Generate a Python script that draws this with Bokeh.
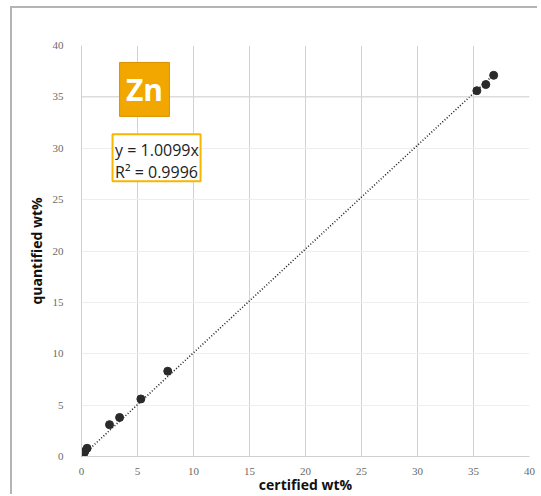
from bokeh.plotting import figure
from bokeh.models import Label, BoxAnnotation, Span, FixedTicker, Range1d
from bokeh.embed import file_html
from bokeh.resources import INLINE

# data
certified = [0.1, 0.2, 0.3, 0.5, 2.5, 3.4, 5.3, 7.7, 35.3, 36.1, 36.8]
quantified = [0.1, 0.3, 0.5, 0.8, 3.1, 3.8, 5.6, 8.3, 35.6, 36.2, 37.1]
slope = 1.0099
r2 = 0.9996
ticks = [0, 5, 10, 15, 20, 25, 30, 35, 40]
element = "Zn"

p = figure(width=527, height=488, output_backend="svg", toolbar_location=None,
           x_range=Range1d(0, 40), y_range=Range1d(0, 40),
           min_border_left=69, min_border_right=10, min_border_top=37, min_border_bottom=38)
p.styles = {"border-left": "2px solid #b4b4b4", "border-top": "2px solid #b4b4b4",
            "margin-left": "10px", "margin-top": "6px"}
p.outline_line_color = None
p.background_fill_color = "white"
p.border_fill_color = "white"

for ax in (p.xaxis[0], p.yaxis[0]):
    ax.ticker = FixedTicker(ticks=ticks)
    ax.major_tick_line_color = None
    ax.minor_tick_line_color = None
    ax.axis_line_color = "#d0d0d0"
    ax.major_label_text_font = "Liberation Serif"
    ax.major_label_text_font_size = "11px"
    ax.major_label_text_color = "#6a6a6a"
p.xaxis.major_label_standoff = 5
p.yaxis.major_label_standoff = 12

for ax, title in ((p.yaxis[0], "quantified wt%"), (p.xaxis[0], "certified wt%")):
    ax.axis_label = title
    ax.axis_label_text_font = "Open Sans"
    ax.axis_label_text_font_style = "bold"
    ax.axis_label_text_font_size = "14px"
    ax.axis_label_text_color = "#111111"
p.yaxis.axis_label_standoff = 4
p.xaxis.axis_label_standoff = -3

p.xgrid.grid_line_color = "#d3d3d3"
p.ygrid.grid_line_color = "#eeeeee"
p.add_layout(Span(location=35, dimension="width", line_color="#d0d0d0", line_width=1))

# trend line through origin
xl = [0, max(certified)]
yl = [slope * v for v in xl]
p.line(xl, yl, line_color="#222222", line_width=1.6, line_dash="1 2")

p.scatter(certified, quantified, size=8, fill_color="#2a2a2a", line_color="#2a2a2a")

# element badge
p.add_layout(BoxAnnotation(left=3.4, right=7.85, bottom=33.1, top=38.35,
                           fill_color="#F2A700", fill_alpha=1.0,
                           line_color="#D89200", line_alpha=1.0, line_width=1))
p.add_layout(Label(x=5.62, y=35.7, text=element, text_align="center", text_baseline="middle",
                   text_color="white", text_font="Open Sans", text_font_style="bold",
                   text_font_size="30px"))

# equation box
p.add_layout(BoxAnnotation(left=2.77, right=10.63, bottom=26.8, top=31.36,
                           fill_color="white", fill_alpha=1.0,
                           line_color="#F5B700", line_alpha=1.0, line_width=2))
p.add_layout(Label(x=3.0, y=29.8, text="y = %.4fx" % slope, text_align="left", text_baseline="middle",
                   text_color="#222222", text_font="Open Sans", text_font_size="16px"))
p.add_layout(Label(x=3.0, y=27.65, text="R\u00b2 = %.4f" % r2, text_align="left", text_baseline="middle",
                   text_color="#222222", text_font="Open Sans", text_font_size="16px"))

open("out.html", "w").write(file_html(p, INLINE))
